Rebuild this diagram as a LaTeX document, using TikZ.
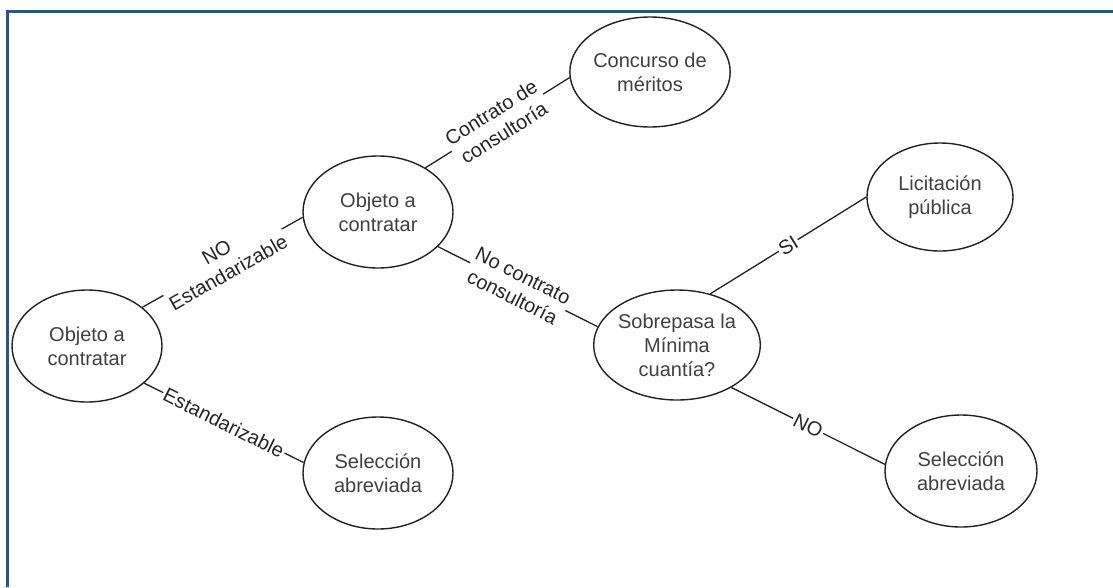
\documentclass[tikz,border=0pt]{standalone}
\usepackage{fontspec}
\setmainfont{Liberation Sans}
\usetikzlibrary{shapes.geometric}
\definecolor{frameblue}{RGB}{41,84,140}
\definecolor{ink}{RGB}{34,34,34}
\begin{document}
\begin{tikzpicture}[x=1pt,y=-1pt,
  state/.style={ellipse, draw=ink, line width=1.4pt, inner sep=0pt, align=center,
    text=black!75, font=\fontsize{20}{24}\selectfont},
  conn/.style={draw=ink, line width=1.3pt},
  lbl/.style={sloped, fill=white, inner sep=1.5pt, align=center,
    text=black!85, font=\fontsize{20}{24}\selectfont}]
\useasboundingbox (0,0) rectangle (1113,587);
\fill[white] (0,0) rectangle (1113,587);
% frame rule along the top and left edges
\draw[frameblue, line width=2.6pt] (7.2,587) |- (1113,11.3);

% decision states
\node[state, minimum width=150pt, minimum height=112pt] (e1) at (87,346) {Objeto a\\contratar};
\node[state, minimum width=150pt, minimum height=112pt] (e2) at (378,212) {Objeto a\\contratar};
\node[state, minimum width=154pt, minimum height=110pt] (e3) at (650,72) {Concurso de\\méritos};
\node[state, minimum width=146pt, minimum height=108pt] (e4) at (940,197) {Licitación\\pública};
\node[state, minimum width=166pt, minimum height=110pt] (e5) at (677,345) {Sobrepasa la\\Mínima\\cuantía?};
\node[state, minimum width=152pt, minimum height=112pt] (e6) at (961,471) {Selección\\abreviada};
\node[state, minimum width=150pt, minimum height=112pt] (e7) at (378,473) {Selección\\abreviada};

% branches
\draw[conn] (e1.35) -- node[lbl] {NO\\Estandarizable} (e2.184);
\draw[conn] (e1.-33.5) -- node[lbl] {Estandarizable} (e7.172.5);
\draw[conn] (e2.43) -- node[lbl] {Contrato de\\consultoría} (e3.184);
\draw[conn] (e2.-30) -- node[lbl] {No contrato\\consultoría} (e5.167);
\draw[conn] (e5.57.5) -- node[lbl] {SI} (e4.180);
\draw[conn] (e5.-38) -- node[lbl] {NO} (e6.175.5);
\end{tikzpicture}
\end{document}
